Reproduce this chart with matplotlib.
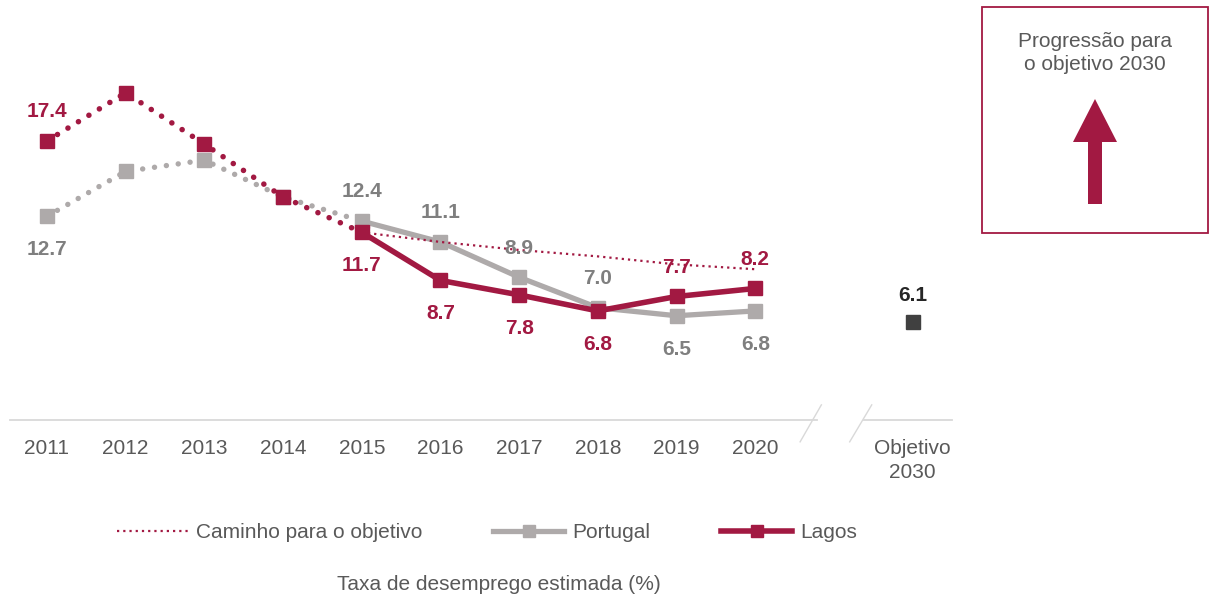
import matplotlib
matplotlib.use('Agg')
import matplotlib.pyplot as plt
from matplotlib.lines import Line2D
from matplotlib.patches import Rectangle, Polygon
import matplotlib.transforms as mtransforms

plt.rcParams['font.family'] = ['Liberation Sans', 'DejaVu Sans']

# Data
years = ['2011', '2012', '2013', '2014', '2015', '2016', '2017', '2018', '2019', '2020']
lagos = [17.4, 20.4, 17.2, 13.9, 11.7, 8.7, 7.8, 6.8, 7.7, 8.2]
portugal = [12.7, 15.5, 16.2, 13.9, 12.4, 11.1, 8.9, 7.0, 6.5, 6.8]
path_years = ['2015', '2016', '2017', '2018', '2019', '2020']
path_values = [11.7, 11.1, 10.6, 10.2, 9.7, 9.4]
target_label = 'Objetivo\n2030'
target_value = 6.1

# which points get a value label, and above (+1) / below (-1)
lagos_labels = {0: 1, 4: -1, 5: -1, 6: -1, 7: -1, 8: 1, 9: 1}
portugal_labels = {0: -1, 4: 1, 5: 1, 6: 1, 7: 1, 8: -1, 9: -1}

red = '#A21942'
grey = '#AEAAAA'
grey_txt = '#7F7F7F'
txt = '#595959'

fig = plt.figure(figsize=(12.10, 6.04), dpi=100)
W, H = 1210, 604

# overlay in pixel coordinates for the side box
ov = fig.add_axes([0, 0, 1, 1])
ov.set_xlim(0, W)
ov.set_ylim(H, 0)
ov.axis('off')
ov.add_patch(Rectangle((982, 7), 226, 226, fill=False, edgecolor=red, lw=1.3))
ov.text(1095, 53, 'Progressão para\no objetivo 2030', ha='center', va='center',
        fontsize=15, color=txt, linespacing=1.3)
ov.add_patch(Polygon([(1088, 204), (1088, 142), (1073, 142), (1095, 99),
                      (1117, 142), (1102, 142), (1102, 204)],
                     closed=True, facecolor=red, edgecolor='none'))

ax = fig.add_axes([10 / W, 184 / H, 942 / W, 420 / H])
ax.patch.set_alpha(0)
ax.set_xlim(-0.47, 11.5)
ax.set_ylim(0, 420 / 16.04)
for s in ax.spines.values():
    s.set_visible(False)

x = list(range(len(years)))
dots = (0, (0.01, 2.2))

# dotted early part
ax.plot(x[:5], portugal[:5], color=grey, lw=3.9, linestyle=dots,
        dash_capstyle='round', zorder=2)
ax.plot(x[:5], lagos[:5], color=red, lw=4.0, linestyle=dots,
        dash_capstyle='round', zorder=3)
# solid later part
ax.plot(x[4:], portugal[4:], color=grey, lw=3.8, zorder=2)
ax.plot(x[4:], lagos[4:], color=red, lw=4.0, zorder=3)
ax.plot(x, portugal, color=grey, lw=0, marker='s', markersize=10.5, zorder=2)
ax.plot(x, lagos, color=red, lw=0, marker='s', markersize=10.5, zorder=3)

# path to objective
px = [years.index(y) for y in path_years]
ax.plot(px, path_values, color=red, lw=1.6, linestyle=(0, (1, 1.8)), zorder=4)

# objective
tx = 11
ax.plot([tx], [target_value], color='#404040', marker='s', markersize=10, lw=0)
ax.annotate('%.1f' % target_value, (tx, target_value), xytext=(0, 19.5),
            textcoords='offset points', ha='center', va='center',
            fontsize=15, fontweight='bold', color='#262626')

def offset(d):
    return 21 if d > 0 else -24

for i, d in lagos_labels.items():
    ax.annotate('%.1f' % lagos[i], (i, lagos[i]), xytext=(0, offset(d)),
                textcoords='offset points', ha='center', va='center',
                fontsize=15, fontweight='bold', color=red, zorder=6)
for i, d in portugal_labels.items():
    ax.annotate('%.1f' % portugal[i], (i, portugal[i]), xytext=(0, offset(d)),
                textcoords='offset points', ha='center', va='center',
                fontsize=15, fontweight='bold', color=grey_txt, zorder=6)

# baseline with break
base = '#D9D9D9'
ax.plot([-0.47, 9.79], [0, 0], color=base, lw=1.3, clip_on=False)
ax.plot([10.38, 11.5], [0, 0], color=base, lw=1.3, clip_on=False)
tr = mtransforms.blended_transform_factory(ax.transData, ax.transAxes)
for a, b in [(9.57, 9.84), (10.2, 10.48)]:
    ax.plot([a, b], [-0.052, 0.036], color=base, lw=1.0, transform=tr, clip_on=False)

ax.set_xticks(x + [tx])
ax.set_xticklabels(years + [target_label], fontsize=15, color=txt, linespacing=1.3)
ax.tick_params(axis='x', length=0, pad=14)
ax.set_yticks([])

handles = [
    Line2D([], [], color=red, lw=1.6, linestyle=(0, (1, 1.8))),
    Line2D([], [], color=grey, lw=3.8, marker='s', markersize=9),
    Line2D([], [], color=red, lw=4.0, marker='s', markersize=9),
]
fig.legend(handles, ['Caminho para o objetivo', 'Portugal', 'Lagos'],
           loc='center', bbox_to_anchor=(487 / W, 1 - 533 / H), ncol=3,
           frameon=False, handlelength=3.4, handletextpad=0.4,
           columnspacing=3.4, numpoints=1, prop={'size': 15},
           labelcolor=txt)

fig.text(499 / W, 1 - 585 / H, 'Taxa de desemprego estimada (%)', ha='center',
         va='center', fontsize=15, color=txt)

fig.savefig('out.png', dpi=100)
